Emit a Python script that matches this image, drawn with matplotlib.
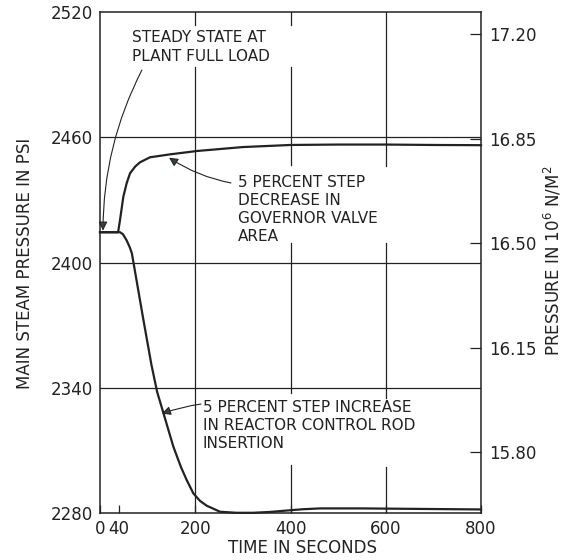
import matplotlib.pyplot as plt

# curves (time in s, pressure in psi)
upper_t = [0, 38, 42, 49, 56, 63, 74, 84, 105, 147, 203, 300, 400, 500, 600, 700, 800]
upper_p = [2414.5, 2414.5, 2420.3, 2431.5, 2438, 2442.7, 2446, 2448, 2450.4, 2451.8,
           2453.4, 2455.3, 2456.3, 2456.5, 2456.5, 2456.3, 2456.2]

lower_t = [0, 42, 48, 56, 63, 67, 90, 108, 120, 133, 154, 170, 182, 196, 210, 224, 252,
           287, 321, 357, 393, 426, 462, 550, 650, 800]
lower_p = [2414.5, 2414.5, 2413.6, 2410.6, 2407, 2404.3, 2374, 2351, 2338, 2328, 2311.8,
           2302, 2295.8, 2289.4, 2285.8, 2283.5, 2280.6, 2280.1, 2280.1, 2280.5, 2281.2,
           2281.8, 2282.2, 2282.2, 2282.0, 2281.7]

x_ticks = [0, 40, 200, 400, 600, 800]
left_ticks = [2280, 2340, 2400, 2460, 2520]
right_ticks = [15.80, 16.15, 16.50, 16.85, 17.20]

ink = '#222222'
head = '#34443a'
plt.rcParams['font.family'] = 'DejaVu Sans'

fig = plt.figure(figsize=(5.7, 5.6), dpi=100)
ax = fig.add_axes([100/570, 1 - 513/560, 381/570, 501/560])
ax.set_xlim(0, 800)
ax.set_ylim(2280, 2520)

# grid: horizontal lines full width, vertical lines broken where text sits
for yv in [2340, 2400, 2460]:
    ax.axhline(yv, color=ink, lw=0.9)
vgrid = {200: [(2280, 2493.7), (2513.8, 2520)],
         400: [(2280, 2303), (2337.5, 2409.3), (2446.7, 2493.7), (2513.8, 2520)],
         600: [(2280, 2302), (2335, 2409.3), (2446, 2520)]}
for xv, segs in vgrid.items():
    for y0, y1 in segs:
        ax.plot([xv, xv], [y0, y1], color=ink, lw=0.9)

ax.plot(upper_t, upper_p, color=ink, lw=1.6, clip_on=False)
ax.plot(lower_t, lower_p, color=ink, lw=1.6, clip_on=False)

for s in ax.spines.values():
    s.set_color(ink)
    s.set_linewidth(1.1)

ax.set_xticks(x_ticks)
ax.set_yticks(left_ticks)
ax.tick_params(axis='x', direction='in', length=6, width=0.9, color=ink,
               labelsize=12, labelcolor=ink, pad=5)
ax.tick_params(axis='y', length=0, labelsize=12, labelcolor=ink, pad=5)

ax2 = ax.twinx()
ax2.set_ylim(15.5957, 17.2737)
ax2.set_yticks(right_ticks)
ax2.set_yticklabels(['%.2f' % v for v in right_ticks])
ax2.tick_params(axis='y', direction='in', length=8, width=0.9, color=ink,
                labelsize=12, labelcolor=ink, pad=6)
for s in ax2.spines.values():
    s.set_visible(False)

fig.text(25/570, 1 - 263/560, 'MAIN STEAM PRESSURE IN PSI', rotation=90,
         ha='center', va='center', fontsize=12, color=ink)
fig.text(553/570, 1 - 261/560, 'PRESSURE IN 10$^{6}$ N/M$^{2}$', rotation=90,
         ha='center', va='center', fontsize=12, color=ink)
fig.text(303/570, 1 - 548/560, 'TIME IN SECONDS', ha='center', va='center',
         fontsize=12, color=ink)

# annotations
ax.text(67, 2503.2, 'STEADY STATE AT\nPLANT FULL LOAD', ha='left', va='center',
        fontsize=11, color=ink, linespacing=1.3)
ax.annotate('', xy=(6.3, 2415.3), xytext=(88, 2492.2),
            arrowprops=dict(arrowstyle='-|>', connectionstyle='arc3,rad=0.12',
                            lw=0.8, color=ink, fc=head, shrinkA=0, shrinkB=0,
                            mutation_scale=13))

ax.text(290, 2425.4, '5 PERCENT STEP\nDECREASE IN\nGOVERNOR VALVE\nAREA', ha='left',
        va='center', fontsize=11, color=ink, linespacing=1.25)
ax.annotate('', xy=(145, 2450.2), xytext=(275, 2438.1),
            arrowprops=dict(arrowstyle='-|>', connectionstyle='arc3,rad=-0.1',
                            lw=0.8, color=ink, fc=head, shrinkA=0, shrinkB=0,
                            mutation_scale=13))

ax.text(216, 2321.7, '5 PERCENT STEP INCREASE\nIN REACTOR CONTROL ROD\nINSERTION',
        ha='left', va='center', fontsize=11, color=ink, linespacing=1.25)
ax.annotate('', xy=(130, 2327.6), xytext=(212, 2332.2),
            arrowprops=dict(arrowstyle='-|>', connectionstyle='arc3,rad=0.05',
                            lw=0.8, color=ink, fc=head, shrinkA=0, shrinkB=0,
                            mutation_scale=13))

fig.savefig('out.png', dpi=100)
